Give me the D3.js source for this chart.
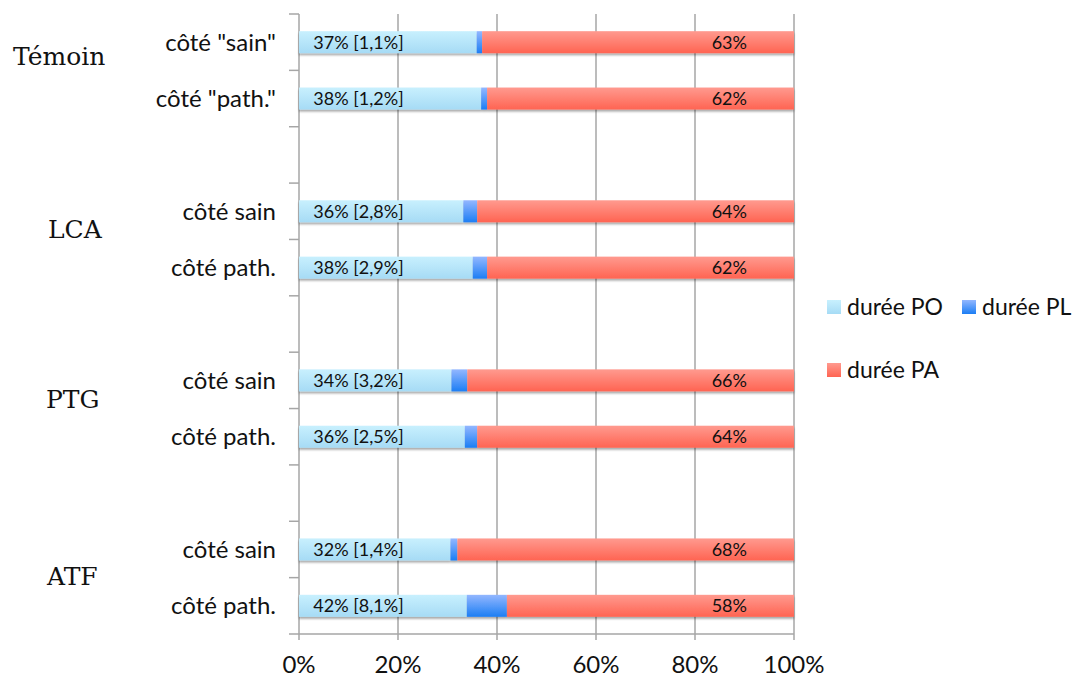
<!DOCTYPE html>
<html><head><meta charset="utf-8">
<script src="https://cdn.jsdelivr.net/npm/d3@7"></script>
<style>body{margin:0;background:#fff}svg{display:block}</style>
</head><body>
<svg id="c" width="1080" height="677"></svg>
<script>
const rows = ['T-s','T-p','gap1','L-s','L-p','gap2','P-s','P-p','gap3','A-s','A-p'];
const rowLabels = ['côté "sain"','côté "path."','','côté sain','côté path.','','côté sain','côté path.','','côté sain','côté path.'];
const totals = [37,38,null,36,38,null,34,36,null,32,42];       // PO+PL (%)
const plValues = [1.1,1.2,null,2.8,2.9,null,3.2,2.5,null,1.4,8.1]; // PL (%)
const groups = ['Témoin','LCA','PTG','ATF'];
const groupRows = [['T-s','T-p'],['L-s','L-p'],['P-s','P-p'],['A-s','A-p']];
const xTicks = [0,20,40,60,80,100];
const seriesNames = ['durée PO','durée PL','durée PA'];

const svg = d3.select('#c');
const x = d3.scaleLinear().domain([0,100]).range([299,794]);
const y = d3.scaleBand().domain(rows).range([14,634]).padding(0);
const barH = 22;
const sans = 'Lato, sans-serif';

const defs = svg.append('defs');
function grad(id, top, bot){
  const g = defs.append('linearGradient').attr('id',id).attr('x1',0).attr('y1',0).attr('x2',0).attr('y2',1);
  g.append('stop').attr('offset','0%').attr('stop-color',top);
  g.append('stop').attr('offset','100%').attr('stop-color',bot);
}
grad('gPO','#c8f0fe','#a6dbf5');
grad('gPL','#93b7ff','#1c7ef4');
grad('gPA','#ff9a8f','#ff6452');
const f = defs.append('filter').attr('id','sh').attr('x','-5%').attr('y','-30%').attr('width','110%').attr('height','180%');
f.append('feGaussianBlur').attr('in','SourceAlpha').attr('stdDeviation',1.2);
f.append('feOffset').attr('dx',0).attr('dy',2).attr('result','ob');
f.append('feComponentTransfer').append('feFuncA').attr('type','linear').attr('slope',0.35);
const fm = f.append('feMerge'); fm.append('feMergeNode'); fm.append('feMergeNode').attr('in','SourceGraphic');

// gridlines
svg.append('g').selectAll('line').data(xTicks.filter(d=>d>0)).join('line')
  .attr('x1',d=>x(d)).attr('x2',d=>x(d)).attr('y1',14).attr('y2',640)
  .attr('stroke','#a6a6a6').attr('stroke-width',1.5);

// left axis
const yAxisG = svg.append('g');
yAxisG.append('line').attr('x1',x(0)).attr('x2',x(0)).attr('y1',14).attr('y2',640).attr('stroke','#a6a6a6').attr('stroke-width',1.5);
const boundaries = rows.map(r=>y(r)).concat([y.range()[1]]);
yAxisG.selectAll('line.t').data(boundaries).join('line').attr('class','t')
  .attr('x1',x(0)-10).attr('x2',x(0)).attr('y1',d=>d).attr('y2',d=>d)
  .attr('stroke','#a6a6a6').attr('stroke-width',1.5);
// bottom axis
svg.append('line').attr('x1',x(0)).attr('x2',x(100)).attr('y1',634).attr('y2',634).attr('stroke','#a6a6a6').attr('stroke-width',1.5);

// bars
const data = rows.map((r,i)=>({r, total:totals[i], pl:plValues[i]})).filter(d=>d.total!=null);
const bg = svg.append('g');
data.forEach(d=>{
  const po = d.total - d.pl, pa = 100 - d.total;
  const segs = [[0,po,'gPO'],[po,d.total,'gPL'],[d.total,100,'gPA']];
  const yy = y(d.r) + (y.bandwidth()-barH)/2;
  const g = bg.append('g').attr('filter','url(#sh)');
  g.selectAll('rect').data(segs).join('rect')
    .attr('x',s=>x(s[0])).attr('width',s=>x(s[1])-x(s[0]))
    .attr('y',yy).attr('height',barH).attr('fill',s=>`url(#${s[2]})`);
  bg.append('text').attr('x',x(2.9)).attr('y',yy+barH/2).attr('dy','0.36em')
    .attr('font-family',sans).attr('font-size',18).attr('fill','#111')
    .text(`${d.total}% [${String(d.pl).replace('.',',')}%]`);
  bg.append('text').attr('x',x(90.5)).attr('y',yy+barH/2).attr('dy','0.36em').attr('text-anchor','end')
    .attr('font-family',sans).attr('font-size',18).attr('fill','#111')
    .text(`${pa}%`);
});

// row labels
svg.append('g').selectAll('text').data(rows.map((r,i)=>({r,l:rowLabels[i]})).filter(d=>d.l)).join('text')
  .attr('x',276).attr('y',d=>y(d.r)+y.bandwidth()/2).attr('dy','0.36em').attr('text-anchor','end')
  .attr('font-family',sans).attr('font-size',24).attr('fill','#111').text(d=>d.l);

// group labels
const gOffsets = [[13,-14],[48,-10],[46,-9],[47,-1]];
svg.append('g').selectAll('text').data(groups).join('text')
  .attr('x',(d,i)=>gOffsets[i][0])
  .attr('y',(d,i)=>(y(groupRows[i][0])+y(groupRows[i][1])+y.bandwidth())/2+gOffsets[i][1])
  .attr('dy','0.35em')
  .attr('font-family','"DejaVu Serif", serif').attr('font-size',25).attr('fill','#111').text(d=>d);

// x tick labels
svg.append('g').selectAll('text').data(xTicks).join('text')
  .attr('x',d=>x(d)).attr('y',673).attr('text-anchor','middle')
  .attr('font-family',sans).attr('font-size',24).attr('fill','#111').text(d=>d+'%');

// legend
const legend = [{n:seriesNames[0],g:'gPO',x:827,y:300},{n:seriesNames[1],g:'gPL',x:962,y:300},{n:seriesNames[2],g:'gPA',x:827,y:363}];
const lg = svg.append('g').selectAll('g').data(legend).join('g');
lg.append('rect').attr('x',d=>d.x).attr('y',d=>d.y).attr('width',14).attr('height',14).attr('fill',d=>`url(#${d.g})`);
lg.append('text').attr('x',d=>d.x+20).attr('y',d=>d.y+7).attr('dy','0.36em')
  .attr('font-family',sans).attr('font-size',23).attr('fill','#111').text(d=>d.n);
</script>
</body></html>
